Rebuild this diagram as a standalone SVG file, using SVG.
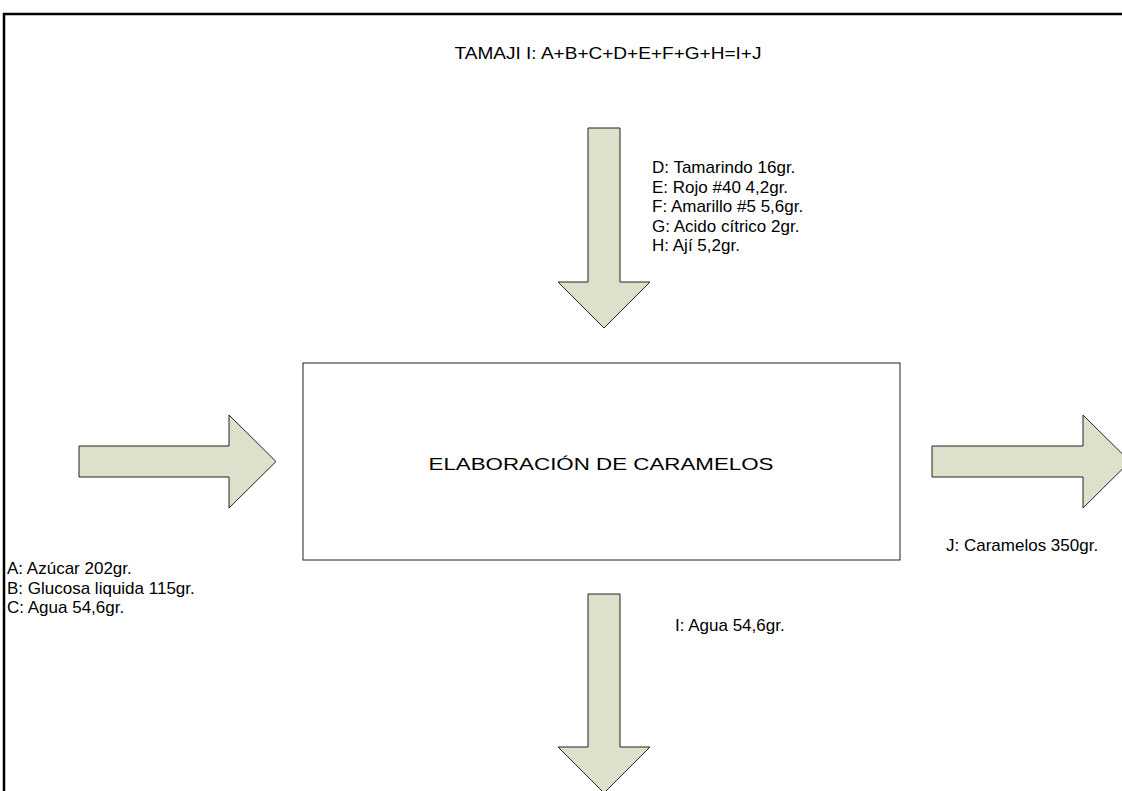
<svg xmlns="http://www.w3.org/2000/svg" width="1122" height="791" viewBox="0 0 1122 791">
<style>
text{font-family:"Liberation Sans",Arial,sans-serif;font-size:17px;fill:#000}
.arrow{fill:#dde0cb;stroke:#222;stroke-width:1}
.small{font-size:15.6px}
</style>
<rect x="0" y="0" width="1122" height="791" fill="#fff"/>
<rect x="4" y="14" width="1130" height="800" fill="none" stroke="#000" stroke-width="2.5"/>
<g id="title"><text x="608" y="59" text-anchor="middle" font-size="19" textLength="307" lengthAdjust="spacingAndGlyphs">TAMAJI I: A+B+C+D+E+F+G+H=I+J</text></g>
<g id="process">
<rect x="303" y="363" width="597" height="197" fill="#fff" stroke="#222" stroke-width="1"/>
<text x="601" y="470" text-anchor="middle" font-size="21" textLength="345" lengthAdjust="spacingAndGlyphs">ELABORACIÓN DE CARAMELOS</text>
</g>
<g id="connectors">
<path class="arrow" d="M588,128 H620 V282 H650 L604,328 L558,282 H588 Z"/>
<path class="arrow" d="M79,446 H229 V415 L276,461.5 L229,508 V477 H79 Z"/>
<path class="arrow" d="M932,446 H1083 V415 L1130,461.5 L1083,508 V477 H932 Z"/>
<path class="arrow" d="M588,594 H620 V747 H650 L604,793 L558,747 H588 Z"/>
</g>
<g id="inputs-top" class="small">
<text x="652" y="173">D: Tamarindo 16gr.</text>
<text x="652" y="192.5">E: Rojo #40 4,2gr.</text>
<text x="652" y="212">F: Amarillo #5 5,6gr.</text>
<text x="652" y="231.5">G: Acido cítrico 2gr.</text>
<text x="652" y="251">H: Ají 5,2gr.</text>
</g>
<g id="inputs-left">
<text x="7" y="574">A: Azúcar 202gr.</text>
<text x="7" y="594">B: Glucosa liquida 115gr.</text>
<text x="7" y="613">C: Agua 54,6gr.</text>
</g>
<g id="output-right"><text x="946" y="551" font-size="17.8">J: Caramelos 350gr.</text></g>
<g id="output-bottom"><text x="675" y="631">I: Agua 54,6gr.</text></g>
</svg>
